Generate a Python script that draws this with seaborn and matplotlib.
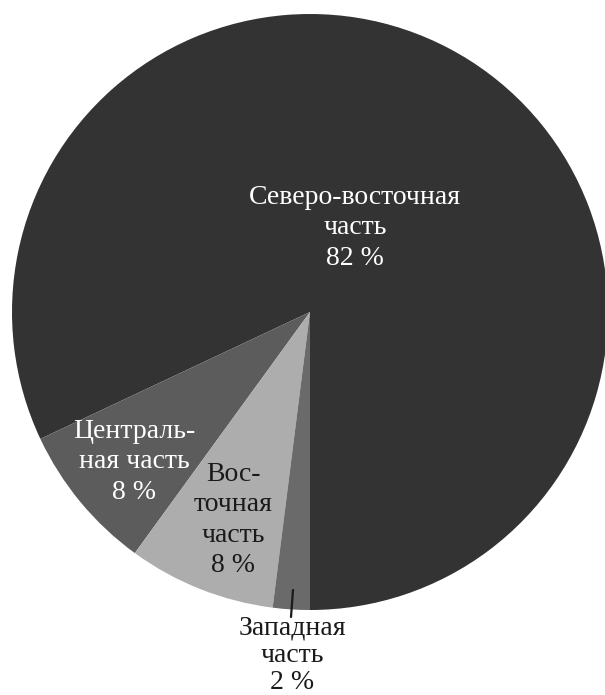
import matplotlib
matplotlib.use("Agg")
import matplotlib.pyplot as plt
import seaborn as sns

# Shares of the total, counter-clockwise from the bottom
regions = ["Северо-восточная\nчасть", "Централь-\nная часть", "Вос-\nточная\nчасть", "Западная\nчасть"]
shares = [82, 8, 8, 2]
colors = ["#333333", "#5c5c5c", "#adadad", "#6a6a6a"]
text_colors = ["white", "white", "#1a1a1a", "#1a1a1a"]

# label centres in image pixels (x, y) and line spacing
label_px = [(355, 228), (134, 462), (233, 520), (292, 655)]
spacing = [1.27, 1.27, 1.27, 1.12]

CX, CY, R = 310, 312, 298
W, H = 605, 695


def to_data(px, py):
    return (px - CX) / R, (CY - py) / R


sns.set_theme(style="white")
plt.rcParams["font.family"] = ["Liberation Serif", "DejaVu Serif"]

fig = plt.figure(figsize=(W / 100, H / 100), dpi=100)
ax = fig.add_axes([0, 0, 1, 1])
ax.pie(
    shares,
    colors=colors,
    startangle=-90,
    counterclock=True,
    radius=1,
    wedgeprops=dict(linewidth=0),
)
ax.set_xlim(-CX / R, (W - CX) / R)
ax.set_ylim((CY - H) / R, CY / R)
ax.set_aspect("auto")
ax.axis("off")

for name, share, tc, (px, py), ls in zip(regions, shares, text_colors, label_px, spacing):
    x, y = to_data(px, py)
    ax.text(x, y, f"{name}\n{share} %", color=tc, ha="center", va="center",
            fontsize=20, linespacing=ls)

# leader line for the small slice
x0, y0 = to_data(293, 590)
x1, y1 = to_data(291, 617)
ax.plot([x0, x1], [y0, y1], color="#1a1a1a", linewidth=1.6)

fig.savefig("out.png", dpi=100, facecolor="white")
